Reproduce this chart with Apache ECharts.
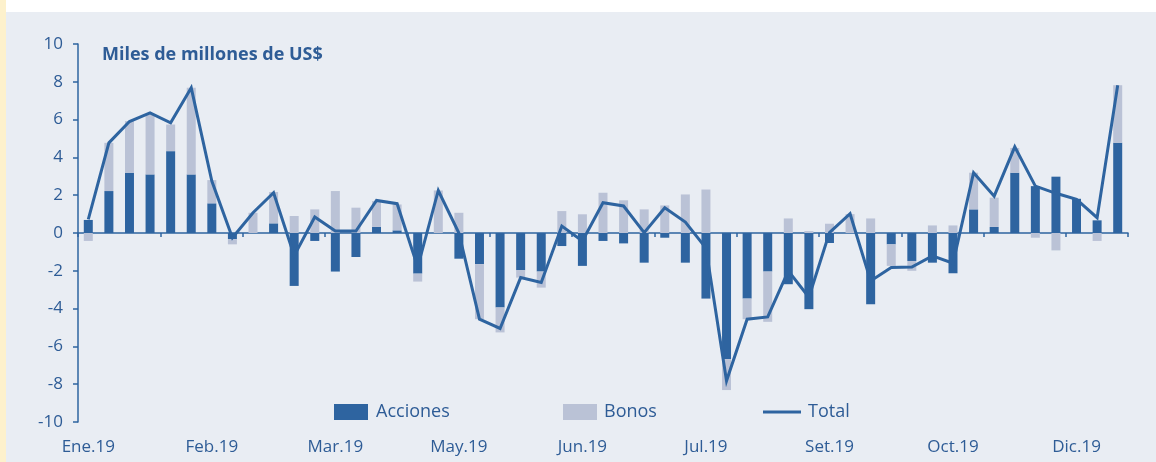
<!DOCTYPE html>
<html>
<head>
<meta charset="utf-8">
<script src="https://cdn.jsdelivr.net/npm/echarts@6/dist/echarts.min.js"></script>
<style>
  html, body { margin: 0; padding: 0; width: 1156px; height: 462px; overflow: hidden; background: #e9edf3; }
  #stripL { position: absolute; left: 0; top: 0; width: 6px; height: 462px; background: #fdf1cc; }
  #stripT { position: absolute; left: 6px; top: 0; width: 1150px; height: 12px; background: #ffffff; }
  #chart { position: absolute; left: 0; top: 0; width: 1156px; height: 462px; }
</style>
</head>
<body>
<div id="stripL"></div>
<div id="stripT"></div>
<div id="chart"></div>
<script>
// Weekly flows, 2019 (miles de millones de US$)
const categories = [
  "Sem.01","Sem.02","Sem.03","Sem.04","Sem.05","Sem.06","Sem.07","Sem.08","Sem.09","Sem.10",
  "Sem.11","Sem.12","Sem.13","Sem.14","Sem.15","Sem.16","Sem.17","Sem.18","Sem.19","Sem.20",
  "Sem.21","Sem.22","Sem.23","Sem.24","Sem.25","Sem.26","Sem.27","Sem.28","Sem.29","Sem.30",
  "Sem.31","Sem.32","Sem.33","Sem.34","Sem.35","Sem.36","Sem.37","Sem.38","Sem.39","Sem.40",
  "Sem.41","Sem.42","Sem.43","Sem.44","Sem.45","Sem.46","Sem.47","Sem.48","Sem.49","Sem.50",
  "Sem.51"
];
const tickLabels = ["Ene.19","Feb.19","Mar.19","May.19","Jun.19","Jul.19","Set.19","Oct.19","Dic.19"];
const yTicks = [-10, -8, -6, -4, -2, 0, 2, 4, 6, 8, 10];

const acciones = [
  0.69, 2.22, 3.19, 3.10, 4.33, 3.10, 1.57, -0.33, 0.00, 0.51,
  -2.80, -0.42, -2.04, -1.27, 0.32, 0.14, -2.15, 0.00, -1.36, -1.65,
  -3.94, -1.97, -2.04, -0.69, -1.74, -0.42, -0.55, -1.57, -0.25, -1.57,
  -3.47, -6.67, -3.47, -2.04, -2.71, -4.03, -0.53, 0.00, -3.77, -0.60,
  -1.48, -1.57, -2.13, 1.25, 0.32, 3.19, 2.48, 2.98, 1.81, 0.67,
  4.77
];
const bonos = [
  -0.42, 2.55, 2.73, 3.17, 1.41, 4.58, 1.23, -0.27, 1.07, 1.66,
  0.90, 1.25, 2.22, 1.34, 1.37, 1.37, -0.42, 2.25, 1.07, -2.91,
  -1.32, -0.39, -0.85, 1.16, 0.99, 2.13, 1.73, 1.25, 1.46, 2.04,
  2.30, -1.64, -1.09, -2.66, 0.77, 0.10, 0.49, 1.00, 0.77, -1.14,
  -0.52, 0.40, 0.40, 1.94, 1.55, 1.31, -0.25, -0.92, 0.00, -0.42,
  3.05
];
const total = [
  0.72, 4.77, 5.90, 6.35, 5.83, 7.68, 2.75, -0.25, 1.07, 2.13,
  -1.20, 0.85, 0.10, 0.10, 1.72, 1.55, -1.80, 2.25, 0.00, -4.56,
  -5.05, -2.36, -2.62, 0.37, -0.42, 1.60, 1.43, 0.02, 1.34, 0.58,
  -0.80, -7.82, -4.56, -4.44, -2.00, -3.40, 0.02, 1.02, -2.54, -1.83,
  -1.80, -1.21, -1.60, 3.19, 1.95, 4.56, 2.48, 2.10, 1.78, 0.81,
  7.82
];

const DARK = '#2e64a0';
const LIGHT = '#bac2d6';
const TXT = '#2e5c96';
const FONT = 'Open Sans';

const chart = echarts.init(document.getElementById('chart'), null, { renderer: 'canvas' });
chart.setOption({
  animation: false,
  backgroundColor: 'transparent',
  title: {
    text: 'Miles de millones de US$',
    left: 102, top: 46, padding: 0,
    textStyle: { color: TXT, fontFamily: FONT, fontSize: 18, fontWeight: 'bold' }
  },
  legend: [
    { data: [{ name: 'Acciones', icon: 'rect' }], left: 334, top: 403, padding: 0,
      itemWidth: 34, itemHeight: 16,
      textStyle: { color: TXT, fontFamily: FONT, fontSize: 18, padding: [0, 0, 0, 3] } },
    { data: [{ name: 'Bonos', icon: 'rect' }], left: 563, top: 403, padding: 0,
      itemWidth: 34, itemHeight: 16,
      textStyle: { color: TXT, fontFamily: FONT, fontSize: 18, padding: [0, 0, 0, 2] } },
    { data: [{ name: 'Total', icon: 'rect' }], left: 763, top: 403, padding: 0,
      itemWidth: 38, itemHeight: 3,
      textStyle: { color: TXT, fontFamily: FONT, fontSize: 18, padding: [0, 0, 0, 2] } }
  ],
  grid: { left: 78, right: 28, top: 44, bottom: 40, containLabel: false },
  xAxis: [
    {
      type: 'category', data: categories, position: 'bottom',
      axisLine: { show: true, onZero: true, lineStyle: { color: DARK, width: 1.5 } },
      axisTick: { show: true, interval: 3, length: 4, lineStyle: { color: DARK, width: 1.5 } },
      axisLabel: { show: false },
      splitLine: { show: false }
    },
    {
      type: 'category', data: categories, position: 'bottom',
      axisLine: { show: false, onZero: false },
      axisTick: { show: false },
      axisLabel: {
        show: true, interval: 5, margin: 17,
        color: TXT, fontFamily: FONT, fontSize: 17,
        formatter: function (v, i) { return tickLabels[Math.round(i / 6)] || ''; }
      },
      splitLine: { show: false }
    }
  ],
  yAxis: {
    type: 'value', min: yTicks[0], max: yTicks[yTicks.length - 1], interval: 2,
    axisLine: { show: true, lineStyle: { color: DARK, width: 1.5 } },
    axisTick: { show: true, length: 5, lineStyle: { color: DARK, width: 1.5 } },
    axisLabel: { margin: 15, color: TXT, fontFamily: FONT, fontSize: 17 },
    splitLine: { show: false }
  },
  series: [
    { name: 'Acciones', type: 'bar', stack: 'flows', data: acciones, barWidth: 9,
      itemStyle: { color: DARK }, xAxisIndex: 0 },
    { name: 'Bonos', type: 'bar', stack: 'flows', data: bonos, barWidth: 9,
      itemStyle: { color: LIGHT }, xAxisIndex: 0 },
    { name: 'Total', type: 'line', data: total, xAxisIndex: 0, symbol: 'none', showSymbol: false,
      lineStyle: { color: DARK, width: 3, join: 'miter' }, itemStyle: { color: DARK }, z: 5 }
  ]
});
</script>
</body>
</html>
